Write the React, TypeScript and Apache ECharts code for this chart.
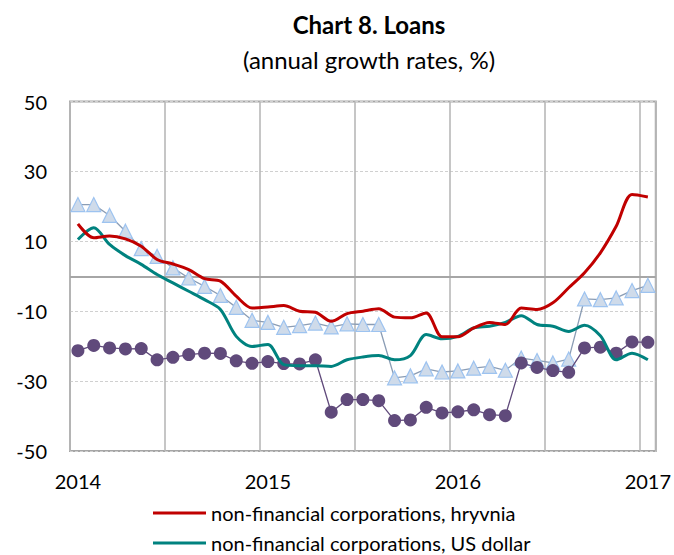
import React, { useEffect, useRef } from "react";
import * as echarts from "echarts";

const months: string[] = [
  "01.2014","02.2014","03.2014","04.2014","05.2014","06.2014","07.2014","08.2014","09.2014","10.2014","11.2014","12.2014",
  "01.2015","02.2015","03.2015","04.2015","05.2015","06.2015","07.2015","08.2015","09.2015","10.2015","11.2015","12.2015",
  "01.2016","02.2016","03.2016","04.2016","05.2016","06.2016","07.2016","08.2016","09.2016","10.2016","11.2016","12.2016",
  "01.2017",
];

const yTicks = { min: -50, max: 50, step: 20 };

const nfcHryvnia: number[] = [
  15.0, 11.0, 11.5, 10.7, 8.6, 4.8, 3.5, 1.9, -0.7, -1.4, -5.7, -9.1,
  -8.8, -8.4, -10.0, -10.3, -12.9, -10.7, -10.0, -9.3, -11.7, -11.9, -10.5, -17.3,
  -17.3, -14.8, -13.2, -13.8, -9.1, -9.5, -7.6, -3.3, 1.0, 6.7, 14.3, 23.4,
  22.7,
];

const nfcUsd: number[] = [
  10.5, 13.9, 9.1, 5.9, 3.4, 0.5, -1.9, -4.3, -6.7, -9.5, -17.2, -20.1,
  -19.5, -25.3, -25.6, -25.6, -25.8, -23.9, -23.1, -22.7, -23.9, -22.7, -16.7, -17.9,
  -17.2, -14.8, -14.3, -13.2, -11.3, -13.8, -14.3, -15.8, -14.0, -17.0, -23.9, -22.0,
  -23.9,
];

const householdsUsd: number[] = [
  -21.3, -19.8, -20.5, -20.8, -20.7, -23.9, -23.2, -22.4, -22.0, -22.1, -24.2, -24.9,
  -24.4, -25.0, -25.1, -23.9, -38.9, -35.3, -35.3, -35.6, -41.3, -41.1, -37.5, -39.1,
  -38.8, -38.2, -39.6, -39.9, -24.8, -26.1, -27.0, -27.5, -20.5, -20.3, -22.0, -18.8,
  -18.9,
];

const householdsHryvnia: number[] = [
  20.5, 20.5, 17.4, 12.9, 7.9, 5.7, 2.4, -0.5, -2.9, -5.5, -8.9, -12.6,
  -13.2, -14.6, -14.1, -13.4, -14.5, -13.6, -13.8, -13.8, -29.1, -28.5, -26.5, -27.4,
  -27.1, -26.3, -25.8, -26.9, -23.4, -24.1, -24.8, -23.7, -6.5, -6.7, -6.2, -4.1,
  -2.6,
];

const seriesNames = [
  "non-financial corporations, hryvnia",
  "non-financial corporations, US dollar",
  "households, US dollar",
  "households, hryvnia",
];

const FONT = "Lato, 'Open Sans', sans-serif";

const legendBase = {
  orient: "horizontal",
  left: 153,
  icon: "rect",
  itemWidth: 53,
  itemHeight: 3,
  itemGap: 10,
  padding: 0,
  textStyle: { fontFamily: FONT, fontSize: 20, color: "#000" },
};

export default function App() {
  const ref = useRef<HTMLDivElement>(null);

  useEffect(() => {
    if (!ref.current) return;
    const chart = echarts.init(ref.current, undefined, { renderer: "svg" });
    chart.setOption({
      animation: false,
      backgroundColor: "#ffffff",
      textStyle: { fontFamily: FONT },
      title: [
        {
          text: "Chart 8. Loans",
          left: 364,
          top: 7,
          textAlign: "center",
          textStyle: { fontFamily: FONT, fontSize: 24, fontWeight: "bold", color: "#000" },
        },
        {
          text: "(annual growth rates, %)",
          left: 364,
          top: 42,
          textAlign: "center",
          textStyle: { fontFamily: FONT, fontSize: 24, fontWeight: "normal", color: "#000" },
        },
      ],
      legend: [
        { ...legendBase, data: [seriesNames[0]], top: 503 },
        { ...legendBase, data: [seriesNames[1]], top: 533 },
      ],
      grid: {
        left: 70,
        right: 14,
        top: 101.5,
        bottom: 104,
        show: true,
        borderColor: "#A6A6A6",
        borderWidth: 2,
        containLabel: false,
      },
      xAxis: {
        type: "category",
        data: months,
        boundaryGap: true,
        axisLine: { show: false, onZero: false },
        axisTick: { show: false },
        axisLabel: {
          interval: 11,
          margin: 20,
          fontFamily: FONT,
          fontSize: 20,
          color: "#000",
          formatter: (v: string) => v.split(".")[1],
        },
        splitLine: {
          show: true,
          interval: 5,
          lineStyle: { color: "#B8B8B8", width: 1.6, type: "solid" },
        },
      },
      yAxis: {
        type: "value",
        min: yTicks.min,
        max: yTicks.max,
        interval: yTicks.step,
        axisLine: { show: false },
        axisTick: { show: false },
        axisLabel: { fontFamily: FONT, fontSize: 20, color: "#000", margin: 23 },
        splitLine: { show: true, lineStyle: { color: "#D0D0D0", width: 1, type: [3, 2] } },
      },
      series: [
        {
          name: seriesNames[3],
          type: "line",
          data: householdsHryvnia,
          symbol: "triangle",
          symbolSize: 14,
          showAllSymbol: true,
          itemStyle: { color: "#CFDBEA", borderColor: "#9DC3F0", borderWidth: 1.2 },
          lineStyle: { color: "#8B9DB5", width: 1.3 },
          z: 2,
          markLine: {
            silent: true,
            symbol: "none",
            label: { show: false },
            lineStyle: { color: "#A6A6A6", width: 2, type: "solid" },
            data: [{ yAxis: 0 }],
            z: 1,
          },
        },
        {
          name: seriesNames[2],
          type: "line",
          data: householdsUsd,
          symbol: "circle",
          symbolSize: 13,
          showAllSymbol: true,
          itemStyle: { color: "#604A7B" },
          lineStyle: { color: "#604A7B", width: 1.3 },
          z: 3,
        },
        {
          name: seriesNames[1],
          type: "line",
          data: nfcUsd,
          symbol: "none",
          smooth: 0.3,
          itemStyle: { color: "#00827F" },
          lineStyle: { color: "#00827F", width: 3 },
          z: 4,
        },
        {
          name: seriesNames[0],
          type: "line",
          data: nfcHryvnia,
          symbol: "none",
          smooth: 0.3,
          itemStyle: { color: "#C00000" },
          lineStyle: { color: "#C00000", width: 3 },
          z: 5,
        },
      ],
    });
    return () => chart.dispose();
  }, []);

  return (
    <div
      ref={ref}
      style={{ position: "fixed", left: 0, top: 0, width: 674, height: 555, background: "#fff" }}
    />
  );
}
